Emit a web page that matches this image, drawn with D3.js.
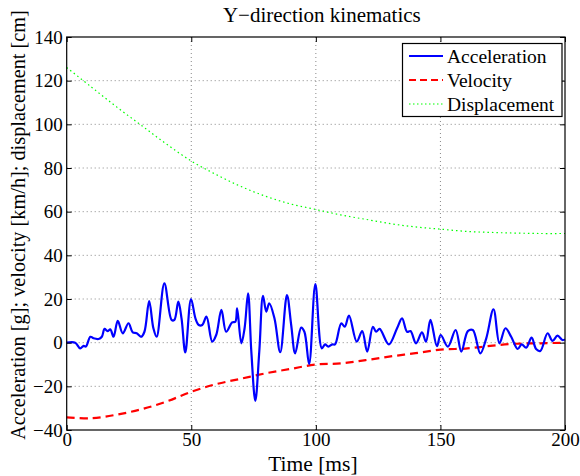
<!DOCTYPE html>
<html><head><meta charset="utf-8">
<script src="https://cdn.jsdelivr.net/npm/d3@7"></script>
<style>body{margin:0;background:#fff}svg{display:block}text{font-family:'Liberation Serif','Times New Roman',serif}</style>
</head><body>
<script>
const timeA = [0,3.4,5.4,6.8,7.7,9.5,10.8,12.8,14.1,15.2,16.4,17.5,18.8,20.5,22.5,24.8,26.5,28.1,29.9,31.2,33.1,34.8,36.1,39.2,42.1,43.2,44.8,46.1,47.6,49.9,51.7,53,54.4,56.1,58.4,60,62.1,64,66.4,67.7,68.4,70.1,71.4,72.8,74.1,75.7,77.3,78.8,80.1,81.3,83.4,85.7,88.4,90.1,91.7,94.1,95.4,97.3,99.8,102.4,103.7,105,106.6,107.7,110.2,111.6,113.3,116.4,118.6,120.6,122.9,124.2,125.6,129.3,132.6,134.6,136.6,138,140.2,142.6,144.2,146,148.6,150.1,153,156.1,158.4,161,163,166,168.4,171.3,173.7,176.1,178.4,181,182.6,184.4,186.6,188.4,190.1,193,195,197,199,200];
const accel = [0,0,-2.6,-1.5,-1.8,2.7,2,1.7,2.7,6.3,5.3,6.1,2.7,10,4.3,8.9,4.7,4.3,2.7,5,19,6.6,2.7,27.2,10.4,10.4,18.8,11,-4.5,20,11,8.1,8.1,11.9,0.5,3.5,15,5,9.3,9.6,15.7,-0.3,6.6,22.6,-4,-26.7,-4,21.5,14.2,18,11.1,-4.4,21.8,8.1,-4.9,6.9,5,-9.8,26.8,-2.6,-0.8,-1.8,-0.8,-0.8,8.9,7.3,12.4,0.5,5.3,-4.1,7.3,5,6.3,-0.8,6.6,11.1,5,5.3,-0.3,4.7,0.5,10.4,-1.6,3.5,-1.8,5.8,-4.1,5.3,5.8,-4.9,2,15.3,-0.3,6.6,2.7,-2.9,-0.8,-2.3,2.3,-2.9,-3.8,4.3,0.8,3.2,1.2,1.5];
const timeVD = [0,10,20,30,40,50,60,70,80,90,100,110,120,130,140,150,160,170,180,190,200];
const velocity = [-34.2,-34.6,-33,-30.5,-27,-22.5,-19,-16.5,-14,-12,-10,-9.5,-8,-6.3,-4.8,-3.2,-2.7,-1.5,-0.5,-0.3,0];
const displacement = [126,117,108,99.5,91,83.2,77,71.5,67,63.5,61,58.5,56.5,54.5,53,52,51,50.5,50.2,50,50];
const xTicks = [0,50,100,150,200];
const yTicks = [-40,-20,0,20,40,60,80,100,120,140];
const legendLabels = ["Acceleration","Velocity","Displacement"];

const W=580,H=476, L=66.7, R=565, T=37, B=430;
const svg=d3.select("body").append("svg").attr("width",W).attr("height",H);
const x=d3.scaleLinear().domain([0,200]).range([L,R]);
const y=d3.scaleLinear().domain([-40,140]).range([B,T]);
const font="'Liberation Serif','Times New Roman',serif";

// grid
const g=svg.append("g");
g.selectAll(".gx").data(xTicks.slice(1,-1)).enter().append("line")
 .attr("x1",d=>x(d)).attr("x2",d=>x(d)).attr("y1",T).attr("y2",B)
 .attr("stroke","#888").attr("stroke-width",1).attr("stroke-dasharray","1,3");
g.selectAll(".gy").data(yTicks.slice(1,-1)).enter().append("line")
 .attr("y1",d=>y(d)).attr("y2",d=>y(d)).attr("x1",L).attr("x2",R)
 .attr("stroke","#888").attr("stroke-width",1).attr("stroke-dasharray","1,3");

// lines
const lineD=d3.line().x(d=>x(d[0])).y(d=>y(d[1])).curve(d3.curveCatmullRom.alpha(0.5));
svg.append("path").datum(timeVD.map((t,i)=>[t,displacement[i]])).attr("d",lineD)
 .attr("fill","none").attr("stroke","#00ff00").attr("stroke-width",1.2).attr("stroke-dasharray","1.5,3");
svg.append("path").datum(timeVD.map((t,i)=>[t,velocity[i]])).attr("d",lineD)
 .attr("fill","none").attr("stroke","#ff0000").attr("stroke-width",2.2).attr("stroke-dasharray","8,5");
svg.append("path").datum(timeA.map((t,i)=>[t,accel[i]])).attr("d",lineD)
 .attr("fill","none").attr("stroke","#0000ff").attr("stroke-width",2.2);

// axes
const tl=5;
const ax=svg.append("g").attr("transform",`translate(0,${B})`).call(d3.axisBottom(x).tickValues(xTicks).tickSize(-tl).tickPadding(2));
const axT=svg.append("g").attr("transform",`translate(0,${T})`).call(d3.axisTop(x).tickValues(xTicks).tickSize(-tl).tickFormat(""));
const ay=svg.append("g").attr("transform",`translate(${L},0)`).call(d3.axisLeft(y).tickValues(yTicks).tickSize(-tl).tickPadding(4));
const ayR=svg.append("g").attr("transform",`translate(${R},0)`).call(d3.axisRight(y).tickValues(yTicks).tickSize(-tl).tickFormat(""));
[ax,axT,ay,ayR].forEach(a=>{a.attr("font-family",font);a.select(".domain").remove();a.selectAll("line").attr("stroke","#000").attr("stroke-width",1);
 a.selectAll("text").style("font-family",font).attr("font-size",19).attr("fill","#000");});
ay.selectAll("text").text(d=>d<0?"\u2212"+Math.abs(d):d);
svg.append("rect").attr("x",L).attr("y",T).attr("width",R-L).attr("height",B-T).attr("fill","none").attr("stroke","#000").attr("stroke-width",1.2);

// labels
svg.append("text").attr("x",(L+R)/2+6).attr("y",22).attr("text-anchor","middle").style("font-family",font).attr("font-size",21).text("Y\u2212direction kinematics");
svg.append("text").attr("x",(L+R)/2-3).attr("y",471).attr("text-anchor","middle").style("font-family",font).attr("font-size",21.5).text("Time [ms]");
svg.append("text").attr("transform",`translate(25,${225}) rotate(-90)`).attr("text-anchor","middle").style("font-family",font).attr("font-size",20.3).text("Acceleration [g]; velocity [km/h]; displacement [cm]");

// legend
const lg=svg.append("g");
lg.append("rect").attr("x",402.5).attr("y",43.5).attr("width",159.5).attr("height",73).attr("fill","#fff").attr("stroke","#000").attr("stroke-width",1.2);
const styles=[{c:"#0000ff",d:null,w:2},{c:"#ff0000",d:"7,4",w:2},{c:"#00ff00",d:"1.5,2.5",w:1.2}];
legendLabels.forEach((lab,i)=>{
 const yy=56+i*24;
 lg.append("line").attr("x1",409).attr("x2",443).attr("y1",yy).attr("y2",yy).attr("stroke",styles[i].c).attr("stroke-width",styles[i].w).attr("stroke-dasharray",styles[i].d);
 lg.append("text").attr("x",447).attr("y",yy+6.5).style("font-family",font).attr("font-size",19.5).text(lab);
});
</script>
</body></html>
